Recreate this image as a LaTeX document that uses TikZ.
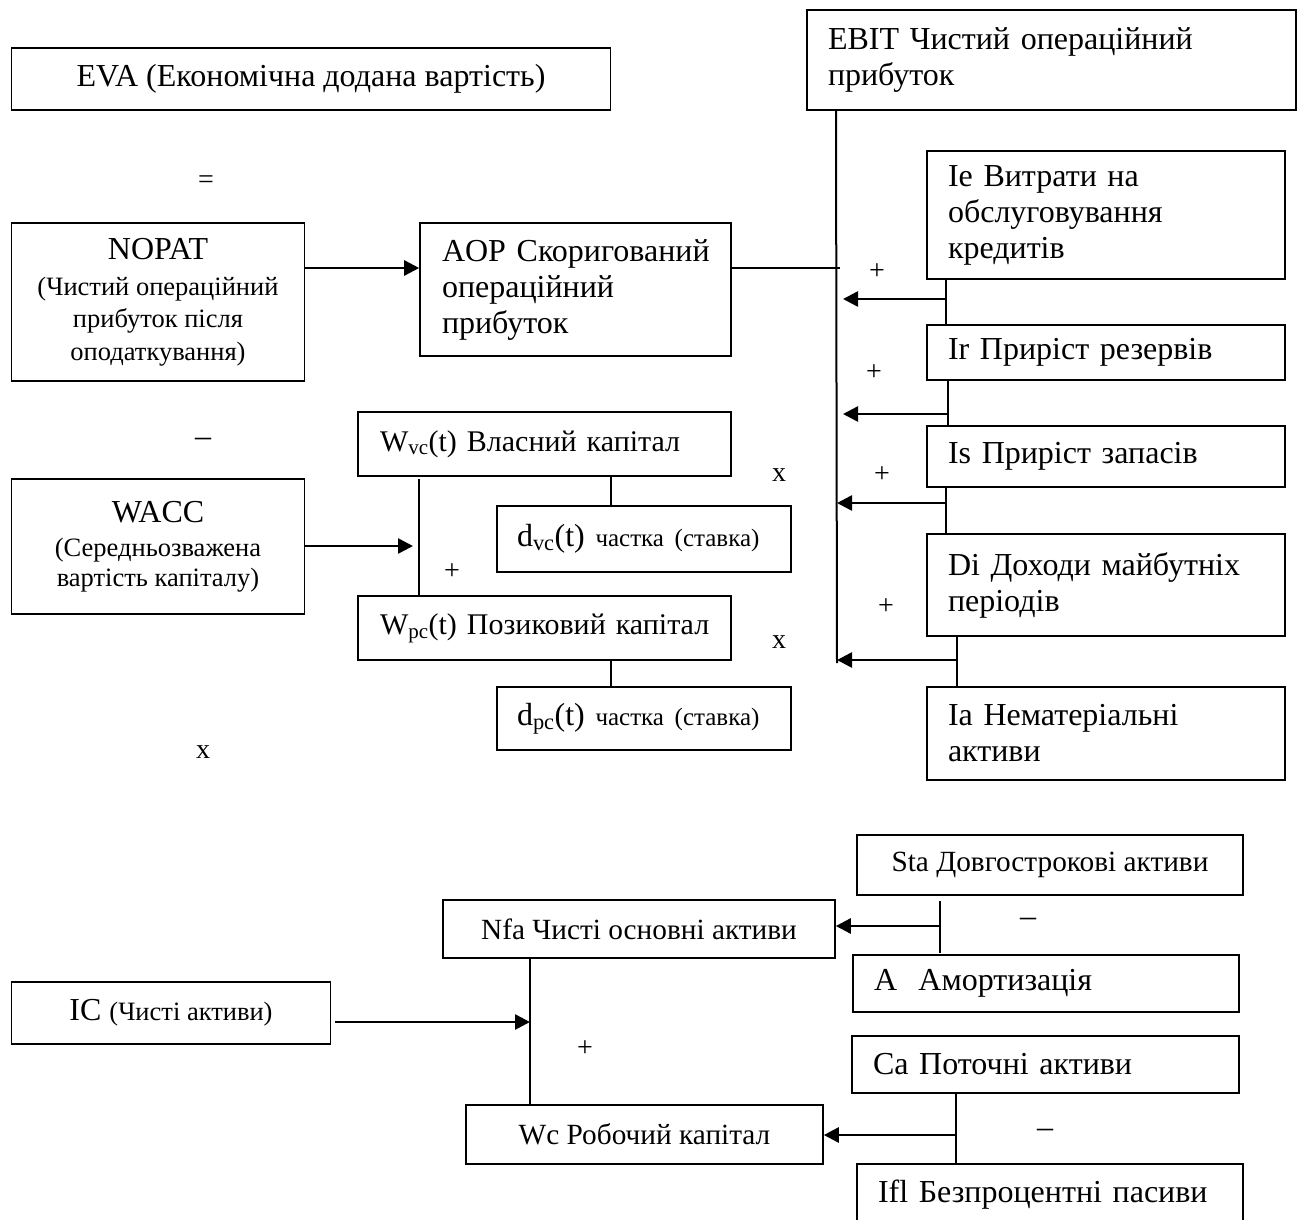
\documentclass[tikz,border=0pt]{standalone}
\usepackage{fontspec}
\setmainfont{Liberation Serif}
\usetikzlibrary{arrows.meta,calc}
\newcommand\Lg{\fontsize{32bp}{36bp}\selectfont}
\newcommand\Wf{\fontsize{30bp}{36bp}\selectfont}
\newcommand\Sm{\fontsize{26.5bp}{33bp}\selectfont}
\newcommand\Sd{\fontsize{25bp}{30bp}\selectfont}
\newcommand\Md{\fontsize{29.3bp}{34bp}\selectfont}
\newcommand\Sg{\fontsize{28bp}{34bp}\selectfont}
\begin{document}
\begin{tikzpicture}[x=1bp,y=-1bp,
  bx/.style={draw, line width=1.6bp, inner sep=0pt, font=\Lg},
  bc/.style={bx, align=center},
  bl/.style={bx, align=left, inner xsep=21bp},
  ln/.style={line width=1.5bp},
  vln/.style={line width=2bp},
  arr/.style={line width=2.6bp, -{Triangle[length=15bp,width=15bp]}},
  sg/.style={font=\Sg, inner sep=0pt}
]
\useasboundingbox (0,0) rectangle (1298,1220);
\fill[white] (0,0) rectangle (1298,1220);
\clip (0,0) rectangle (1298,1220);

% ---- upper left
\node[bc, minimum width=599bp, minimum height=62bp] (eva) at (311,79) {EVA (Економічна додана вартість)};
\node[bc, minimum width=293bp, minimum height=158bp] (nopat) at (158,302)
  {NOPAT\\[0bp]{\Sm (Чистий операційний}\\[-4bp]{\Sm прибуток після}\\[-3bp]{\Sm оподаткування)}};
\node[bl, inner xsep=22bp, text width=267bp, minimum height=133bp] (aop) at (575.5,289.5)
  {AOP~Скоригований\\операційний\\прибуток};
\node[bc, minimum width=293bp, minimum height=135bp] (wacc) at (158,546.5)
  {WACC\\[-2bp]{\Sm (Середньозважена}\\[-6bp]{\Sm вартість капіталу)}};
\node[bl, font=\Wf, inner xsep=22bp, text width=329bp, minimum height=64bp] (wvc) at (544.5,444)
  {W\textsubscript{vc}(t)~Власний~капітал};
\node[bl, inner xsep=20bp, text width=254bp, minimum height=66bp] (dvc) at (644,539)
  {d\textsubscript{vc}(t)~{\Sd частка~(ставка)}};
\node[bl, font=\Wf, inner xsep=22bp, text width=329bp, minimum height=64bp] (wpc) at (544.5,628)
  {W\textsubscript{pc}(t)~Позиковий~капітал};
\node[bl, inner xsep=20bp, text width=254bp, minimum height=63bp] (dpc) at (644,718.5)
  {d\textsubscript{pc}(t)~{\Sd частка~(ставка)}};

% ---- upper right
\node[bl, text width=447bp, minimum height=100bp] (ebit) at (1051.5,60)
  {EBIT~Чистий~операційний\\прибуток};
\node[bl, text width=316bp, minimum height=128bp] (ie) at (1106,215)
  {Ie~Витрати~на\\обслуговування\\кредитів};
\node[bl, text width=316bp, minimum height=55bp] (ir) at (1106,352.5) {Ir~Приріст~резервів};
\node[bl, text width=316bp, minimum height=61bp] (is) at (1106,456.5) {Is~Приріст~запасів};
\node[bl, text width=316bp, minimum height=102bp] (di) at (1106,585)
  {Di~Доходи~майбутніх\\періодів};
\node[bl, text width=316bp, minimum height=93bp] (ia) at (1106,733.5)
  {Ia~Нематеріальні\\активи};

% ---- lower part
\node[bc, font=\Md, minimum width=392bp, minimum height=58bp] (nfa) at (639,929) {Nfa Чисті основні активи};
\node[bc, minimum width=319bp, minimum height=62bp] (ic) at (171,1013) {IC {\Sm (Чисті активи)}};
\node[bc, font=\Md, minimum width=357bp, minimum height=59bp] (wc) at (644.5,1134.5) {Wc Робочий капітал};
\node[bc, font=\Md, minimum width=386bp, minimum height=60bp] (sta) at (1050,865) {Sta Довгострокові активи};
\node[bl, text width=344bp, minimum height=57bp] (am) at (1046,983.5) {A~~Амортизація};
\node[bl, text width=345bp, minimum height=57bp] (ca) at (1045.5,1064.5) {Ca~Поточні~активи};
\node[bl, text width=344bp, minimum height=62bp] (ifl) at (1050,1195) {Ifl~Безпроцентні~пасиви};

% ---- signs
\node[sg] (s1) at (206,182) {=};
\node[sg, font=\Lg] (s2) at (203,442) {–};
\node[sg] (s3) at (203,752) {x};
\node[sg] (s4) at (779,475) {x};
\node[sg] (s5) at (779,642) {x};
\node[sg] (p1) at (877,272) {+};
\node[sg] (p2) at (874,373) {+};
\node[sg] (p3) at (882,475) {+};
\node[sg] (p4) at (886,607) {+};
\node[sg] (p5) at (452,572) {+};
\node[sg] (p6) at (585,1049) {+};
\node[sg, font=\Lg] (m1) at (1028,922) {–};
\node[sg, font=\Lg] (m2) at (1045,1133) {–};

% ---- helper coordinates
\coordinate (yA) at (0,268);
\coordinate (y1) at (0,299);
\coordinate (y2) at (0,414);
\coordinate (y3) at (0,503);
\coordinate (y4) at (0,660);
\coordinate (yW) at (0,546);
\coordinate (yIC) at (0,1022);
\coordinate (yN) at (0,926);
\coordinate (yWc) at (0,1135);
\coordinate (vt) at (836,110);
\coordinate (vb) at (837,663);
\coordinate (aj) at (840,268);
\coordinate (t1) at (843,0);
\coordinate (t3) at (837,0);
\coordinate (c1) at (946,0);
\coordinate (c2) at (948,0);
\coordinate (c4) at (957,0);
\coordinate (wv) at (419,479);
\coordinate (wt) at (413,0);
\coordinate (xd) at (611,0);
\coordinate (icst) at (335,0);
\coordinate (xn) at (530,0);
\coordinate (sa1) at (940,901);
\coordinate (sa2) at (940,953);
\coordinate (xc) at (956,0);

% ---- connectors upper
\draw[arr] (nopat.east |- yA) -- (aop.west |- yA);
\draw[ln] (aop.east |- yA) -- (aj);
\draw[vln] (ebit.south -| vt) -- (vb);
\draw[ln] (ie.south -| c1) -- (ir.north -| c1);
\draw[arr] (c1 |- y1) -- (t1 |- y1);
\draw[ln] (ir.south -| c2) -- (is.north -| c2);
\draw[arr] (c2 |- y2) -- (t1 |- y2);
\draw[ln] (is.south -| c1) -- (di.north -| c1);
\draw[arr] (c1 |- y3) -- (t3 |- y3);
\draw[ln] (di.south -| c4) -- (ia.north -| c4);
\draw[arr] (c4 |- y4) -- (t3 |- y4);

\draw[arr] (wacc.east |- yW) -- (wt |- yW);
\draw[ln] (wv) -- (wpc.north -| wv);
\draw[ln] (wvc.south -| xd) -- (dvc.north -| xd);
\draw[ln] (wpc.south -| xd) -- (dpc.north -| xd);

% ---- connectors lower
\draw[arr] (icst |- yIC) -- (xn |- yIC);
\draw[ln] (nfa.south -| xn) -- (wc.north -| xn);
\draw[ln] (sa1) -- (sa2);
\draw[arr] (sa1 |- yN) -- (nfa.east |- yN);
\draw[ln] (ca.south -| xc) -- (ifl.north -| xc);
\draw[arr] (xc |- yWc) -- (wc.east |- yWc);
\end{tikzpicture}
\end{document}
